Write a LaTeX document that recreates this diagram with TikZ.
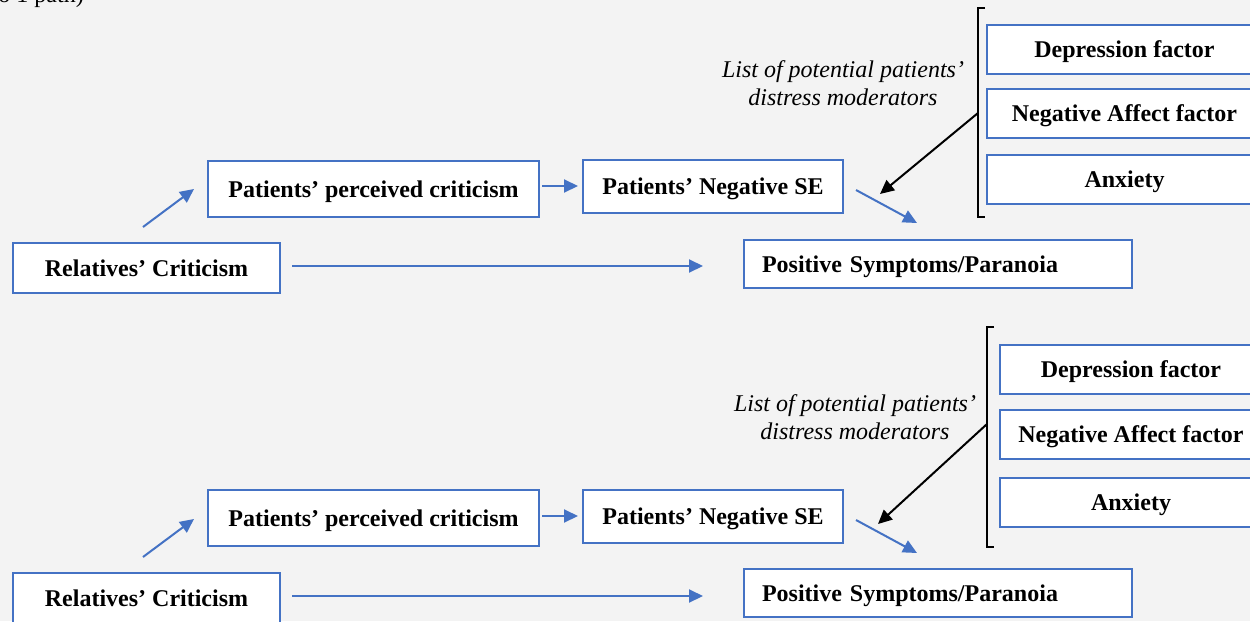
\documentclass[tikz,border=0pt]{standalone}
\usepackage{fontspec}
\setmainfont{Liberation Serif}
\usetikzlibrary{arrows.meta}
\definecolor{canvas}{HTML}{F3F3F3}
\definecolor{boxblue}{HTML}{4472C4}
\begin{document}
\begin{tikzpicture}[x=1pt,y=-1pt,
  box/.style={draw=boxblue, fill=white, line width=2pt, inner sep=0pt,
    text height=18pt, text depth=2pt,
    font=\fontsize{24}{27}\selectfont\bfseries},
  flow/.style={draw=boxblue, line width=2pt, -{Triangle[length=14pt,width=13pt]}},
  modarrow/.style={draw=black, line width=2pt, -{Triangle[length=14pt,width=13pt]}},
  bracket/.style={draw=black, line width=2pt},
  note/.style={font=\fontsize{24}{28}\selectfont\itshape, align=center},
  caption/.style={font=\fontsize{24}{27}\selectfont}]
\useasboundingbox[fill=canvas] (0,0) rectangle (1250,621);

% caption line continued from above
\node[caption, anchor=base east, inner sep=0pt] (cap) at (84,2) {(to 1 path)};

% ---------------- first model ----------------
\node[box, minimum width=267, minimum height=50] (rcA) at (146.5,268) {Relatives’ Criticism};
\node[box, minimum width=331, minimum height=56] (pcA) at (373.5,189) {Patients’ perceived criticism};
\node[box, minimum width=260, minimum height=53] (nsA) at (713,186.5) {Patients’ Negative SE};
\node[box, minimum width=388, minimum height=48, text width=352, align=left] (psA) at (938,264) {Positive Symptoms/Paranoia};
\node[box, minimum width=275, minimum height=49] (dfA) at (1124.5,49.5) {Depression factor};
\node[box, minimum width=275, minimum height=49] (naA) at (1124.5,113.5) {Negative Affect factor};
\node[box, minimum width=275, minimum height=49] (axA) at (1124.5,179.5) {Anxiety};
\node[note] (lstA) at (843,83) {List of potential patients’\\distress moderators};

\draw[bracket] (985,8) -- (978,8) -- (978,217) -- (985,217);
\coordinate (brA) at (978,113);
\coordinate (tipA) at (880,194);
\draw[modarrow] (brA) -- (tipA);

\coordinate (upA1) at (143,227);
\coordinate (upA2) at (194,189);
\draw[flow] (upA1) -- (upA2);
\draw[flow, shorten <=2pt, shorten >=4pt] (pcA.east |- 0,186) -- (nsA.west |- 0,186);
\coordinate (dnA1) at (856,190);
\coordinate (dnA2) at (917,223);
\draw[flow] (dnA1) -- (dnA2);
\draw[flow, shorten <=11pt, shorten >=40pt] (rcA.east |- 0,266) -- (psA.west |- 0,266);

% ---------------- second model ----------------
\node[box, minimum width=267, minimum height=50] (rcB) at (146.5,598) {Relatives’ Criticism};
\node[box, minimum width=331, minimum height=56] (pcB) at (373.5,518) {Patients’ perceived criticism};
\node[box, minimum width=260, minimum height=53] (nsB) at (713,516) {Patients’ Negative SE};
\node[box, minimum width=388, minimum height=48, text width=352, align=left] (psB) at (938,593) {Positive Symptoms/Paranoia};
\node[box, minimum width=262, minimum height=49] (dfB) at (1131,369.5) {Depression factor};
\node[box, minimum width=262, minimum height=49] (naB) at (1131,434.5) {Negative Affect factor};
\node[box, minimum width=262, minimum height=49] (axB) at (1131,502) {Anxiety};
\node[note] (lstB) at (855,417) {List of potential patients’\\distress moderators};

\draw[bracket] (994,327) -- (987,327) -- (987,547) -- (994,547);
\coordinate (brB) at (987,424);
\coordinate (tipB) at (878,524);
\draw[modarrow] (brB) -- (tipB);

\coordinate (upB1) at (143,557);
\coordinate (upB2) at (194,519);
\draw[flow] (upB1) -- (upB2);
\draw[flow, shorten <=2pt, shorten >=4pt] (pcB.east |- 0,516) -- (nsB.west |- 0,516);
\coordinate (dnB1) at (856,520);
\coordinate (dnB2) at (917,553);
\draw[flow] (dnB1) -- (dnB2);
\draw[flow, shorten <=11pt, shorten >=40pt] (rcB.east |- 0,596) -- (psB.west |- 0,596);
\end{tikzpicture}
\end{document}
